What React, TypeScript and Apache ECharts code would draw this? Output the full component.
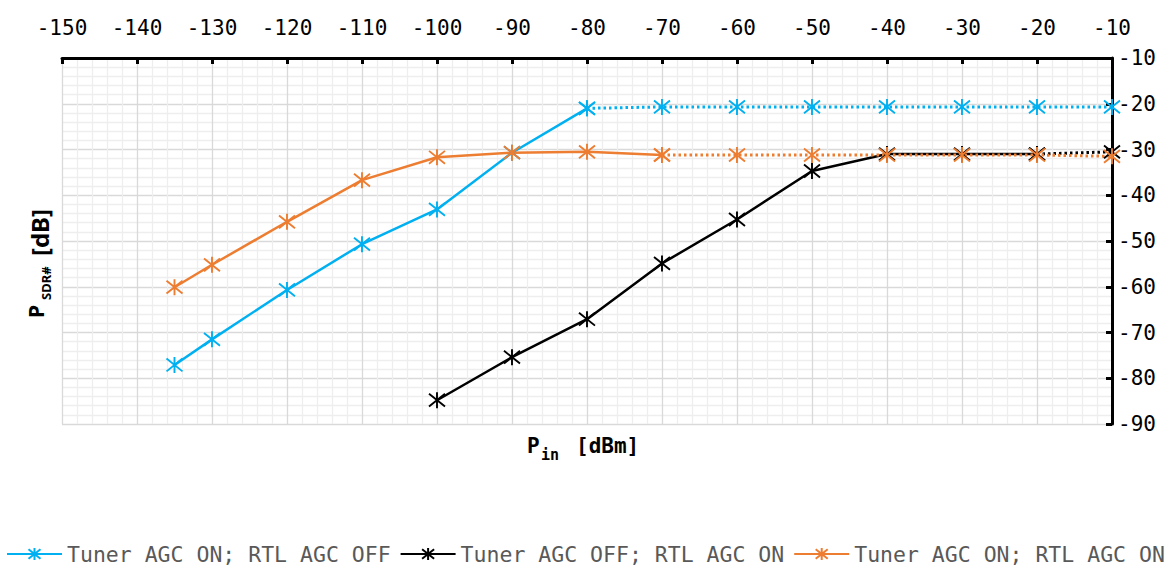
import React, { useEffect, useRef } from "react";
import * as echarts from "echarts";

const xTicks = [-150, -10];
const pinAll = [-135, -130, -120, -110, -100, -90, -80, -70, -60, -50, -40, -30, -20, -10];
const blueVals = [-77.1, -71.5, -60.7, -50.7, -43.1, -30.7, -21.0, -20.7, -20.7, -20.7, -20.7, -20.7, -20.7, -20.7];
const orangeVals = [-60.1, -55.2, -45.8, -36.7, -31.7, -30.7, -30.5, -31.2, -31.2, -31.2, -31.2, -31.2, -31.2, -31.5];
const pinBlack = [-100, -90, -80, -70, -60, -50, -40, -30, -20, -10];
const blackVals = [-84.8, -75.4, -67.1, -54.9, -45.3, -34.7, -31.0, -31.0, -31.0, -30.5];
const yRange = [-90, -10];

const names = [
  "Tuner AGC ON; RTL AGC OFF",
  "Tuner AGC OFF; RTL AGC ON",
  "Tuner AGC ON; RTL AGC ON",
];
const colors = ["#00b0f0", "#000000", "#ed7d31"];

const STAR = "path://M1,1L9,9M9,1L1,9M5,0L5,10";
const MONO = "DejaVu Sans Mono";

function pairs(xs: number[], ys: number[], from: number, to: number) {
  const out: number[][] = [];
  for (let i = from; i <= to; i++) out.push([xs[i], ys[i]]);
  return out;
}

function mkSeries(name: string, color: string, data: number[][], dotted: boolean) {
  return {
    type: "line",
    name,
    data,
    symbol: STAR,
    symbolSize: 16,
    showAllSymbol: true,
    lineStyle: dotted
      ? { color, width: 3, type: [2.5, 3] }
      : { color, width: 2.5, type: "solid" },
    itemStyle: { color, borderColor: color, borderWidth: 1.9 },
    emphasis: { disabled: true },
  };
}

export default function App() {
  const ref = useRef<HTMLDivElement>(null);
  useEffect(() => {
    if (!ref.current) return;
    const chart = echarts.init(ref.current, undefined, { renderer: "svg" });
    const series: any[] = [
      mkSeries(names[0], colors[0], pairs(pinAll, blueVals, 0, 6), false),
      mkSeries(names[0], colors[0], pairs(pinAll, blueVals, 6, 13), true),
      mkSeries(names[1], colors[1], pairs(pinBlack, blackVals, 0, 8), false),
      mkSeries(names[1], colors[1], pairs(pinBlack, blackVals, 8, 9), true),
      mkSeries(names[2], colors[2], pairs(pinAll, orangeVals, 0, 7), false),
      mkSeries(names[2], colors[2], pairs(pinAll, orangeVals, 7, 13), true),
    ];
    chart.setOption({
      animation: false,
      grid: { left: 62, right: 64, top: 58, bottom: 142, containLabel: false },
      xAxis: {
        type: "value",
        position: "top",
        min: xTicks[0],
        max: xTicks[1],
        interval: 10,
        axisLine: { show: true, onZero: false, lineStyle: { color: "#000", width: 3 } },
        axisTick: { show: true, inside: true, length: 6, lineStyle: { color: "#000", width: 3 } },
        axisLabel: { color: "#000", fontFamily: MONO, fontSize: 21, margin: 20 },
        splitLine: { show: true, lineStyle: { color: "#d9d9d9", width: 1.3 } },
        minorTick: { show: false, splitNumber: 5 },
        minorSplitLine: { show: true, lineStyle: { color: "#eeeeee", width: 1.3 } },
      },
      yAxis: {
        type: "value",
        position: "right",
        min: yRange[0],
        max: yRange[1],
        interval: 10,
        axisLine: { show: true, onZero: false, lineStyle: { color: "#000", width: 3 } },
        axisTick: { show: true, inside: true, length: 6, lineStyle: { color: "#000", width: 3 } },
        axisLabel: { color: "#000", fontFamily: MONO, fontSize: 21, margin: 6 },
        splitLine: { show: true, lineStyle: { color: "#d9d9d9", width: 1.3 } },
        minorTick: { show: false, splitNumber: 5 },
        minorSplitLine: { show: true, lineStyle: { color: "#eeeeee", width: 1.3 } },
      },
      legend: {
        data: names,
        left: 6,
        right: 0,
        top: 543,
        padding: 0,
        itemWidth: 55,
        itemHeight: 15,
        itemGap: 9,
        selectedMode: false,
        textStyle: { fontFamily: MONO, fontSize: 21.5, color: "#595959" },
      },
      graphic: [
        {
          type: "text",
          x: 527,
          y: 446,
          style: { text: "P", font: `bold 21px "${MONO}"`, fill: "#000", textVerticalAlign: "middle" },
        },
        {
          type: "text",
          x: 541,
          y: 455,
          style: { text: "in", font: `bold 15px "${MONO}"`, fill: "#000", textVerticalAlign: "middle" },
        },
        {
          type: "text",
          x: 576,
          y: 446,
          style: { text: "[dBm]", font: `bold 21px "${MONO}"`, fill: "#000", textVerticalAlign: "middle" },
        },
        {
          type: "group",
          x: 36,
          y: 318,
          rotation: Math.PI / 2,
          children: [
            {
              type: "text",
              x: 0,
              y: 0,
              style: { text: "P", font: 'bold 21px "Noto Sans"', fill: "#000", textVerticalAlign: "middle" },
            },
            {
              type: "text",
              x: 18,
              y: 10,
              style: { text: "SDR#", font: 'bold 13px "Noto Sans"', fill: "#000", textVerticalAlign: "middle" },
            },
            {
              type: "text",
              x: 62,
              y: 3,
              style: { text: "[dB]", font: 'bold 24px "Noto Sans"', fill: "#000", textVerticalAlign: "middle" },
            },
          ],
        },
      ],
      series,
    });
    return () => chart.dispose();
  }, []);
  return (
    <div
      ref={ref}
      style={{ position: "absolute", left: 0, top: 0, width: 1176, height: 566, background: "#fff" }}
    />
  );
}
